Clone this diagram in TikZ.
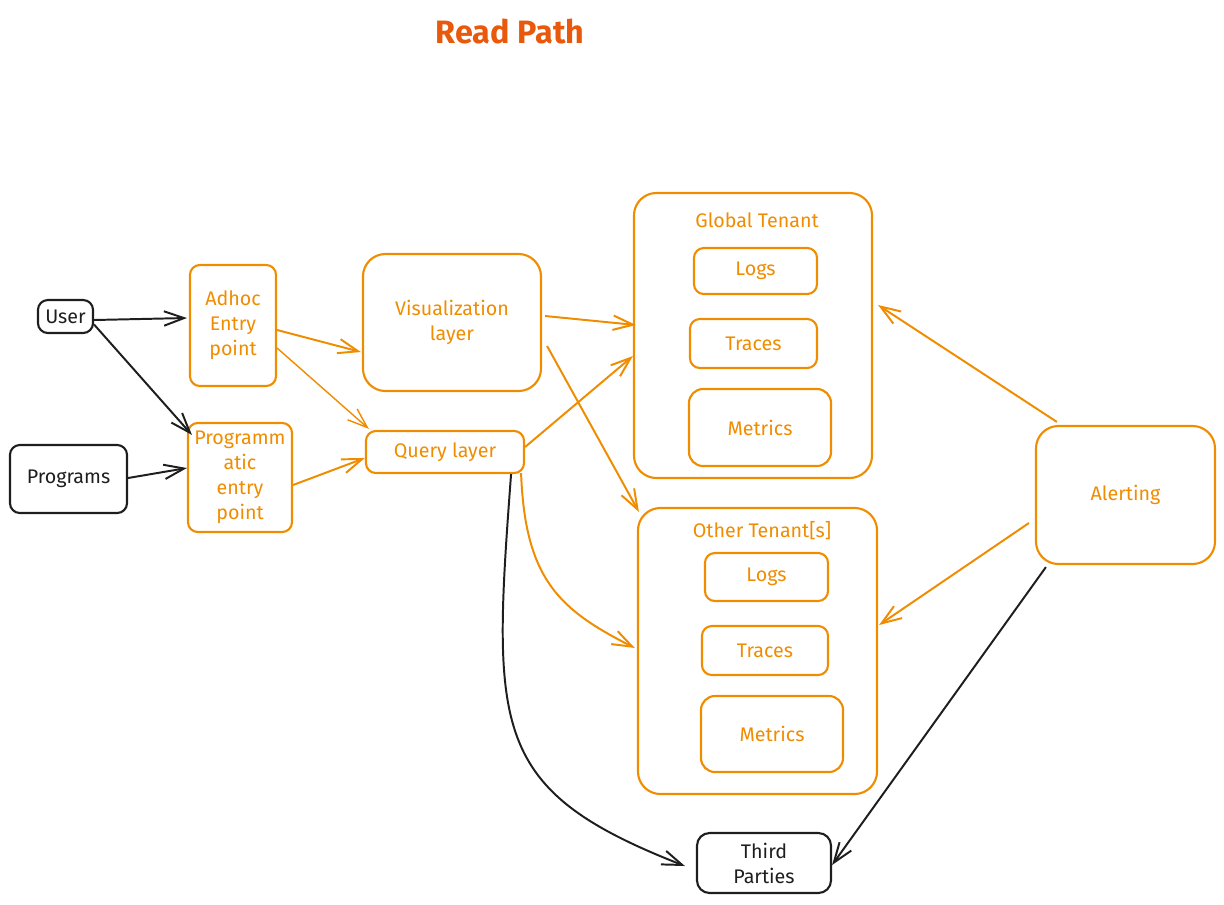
\documentclass[tikz,border=0pt]{standalone}
\usepackage{fontspec}
\setmainfont{Fira Sans}
\usetikzlibrary{arrows.meta,calc}
\definecolor{amber}{HTML}{F08C00}
\definecolor{rust}{HTML}{E8590C}
\definecolor{ink}{HTML}{1E1E1E}
\newcommand{\lbltxt}{\fontsize{14}{17.7}\selectfont}

\begin{document}
\begin{tikzpicture}[
    x=0.025cm, y=-0.025cm,
    >={Straight Barb[length=5mm,width=3.6mm]},
    box/.style={draw=amber, text=amber, line width=1.5pt, rounded corners=7pt, align=center, inner sep=1pt, font=\lbltxt},
    bigbox/.style={box, rounded corners=16pt},
    inkbox/.style={box, draw=ink, text=ink},
    lbl/.style={text=amber, font=\lbltxt},
    flow/.style={->, amber, line width=1.4pt},
    inkflow/.style={->, ink, line width=1.4pt},
  ]
  \useasboundingbox (0,0) rectangle (1224,904);

  % ---------------- title
  \node[text=rust, font=\fontsize{23}{27}\bfseries] (ttl) at (510,31) {Read Path};

  % ---------------- sources
  \node[inkbox, minimum width=1.375cm, minimum height=0.825cm] (user) at (65.5,316.5) {User};
  \node[inkbox, minimum width=2.925cm, minimum height=1.7cm] (progs) at (68.5,479) {Programs};

  % ---------------- entry points
  \node[box, minimum width=2.15cm, minimum height=3.025cm] (adhoc) at (233,325.5) {Adhoc\\Entry\\point};
  \node[box, minimum width=2.6cm, minimum height=2.725cm] (prog) at (240,477.5) {Programm\\atic\\entry\\point};

  % ---------------- layers
  \node[bigbox, minimum width=4.45cm, minimum height=3.425cm] (viz) at (452,322.5) {Visualization\\layer};
  \node[box, minimum width=3.95cm, minimum height=1.05cm] (query) at (445,452) {Query layer};

  % ---------------- global tenant
  \node[bigbox, minimum width=5.95cm, minimum height=7.125cm] (global) at (753,335.5) {};
  \node[lbl] (gname) at (757,220) {Global Tenant};
  \node[box, minimum width=3.075cm, minimum height=1.15cm] (glogs) at (755.5,271) {Logs};
  \node[box, minimum width=3.175cm, minimum height=1.225cm] (gtraces) at (753.5,343.5) {Traces};
  \node[box, rounded corners=10pt, minimum width=3.55cm, minimum height=1.925cm] (gmetrics) at (760,427.5) {Metrics};

  % ---------------- other tenants
  \node[bigbox, minimum width=5.975cm, minimum height=7.15cm] (other) at (757.5,651) {};
  \node[lbl] (oname) at (762,531) {Other Tenant[s]};
  \node[box, minimum width=3.075cm, minimum height=1.2cm] (ologs) at (766.5,577) {Logs};
  \node[box, minimum width=3.15cm, minimum height=1.225cm] (otraces) at (765,650.5) {Traces};
  \node[box, rounded corners=10pt, minimum width=3.55cm, minimum height=1.9cm] (ometrics) at (772,734) {Metrics};

  % ---------------- alerting and third parties
  \node[bigbox, minimum width=4.475cm, minimum height=3.45cm] (alert) at (1125.5,495) {Alerting};
  \node[inkbox, rounded corners=9pt, minimum width=3.35cm, minimum height=1.5cm] (third) at (764,863) {Third\\Parties};

  % ---------------- connectors
  \draw[inkflow] ($(user.east)+(0,3.5)$) -- ($(adhoc.west)+(-2,-7.5)$);
  \draw[inkflow] ($(user.east)+(0,8)$) -- ($(prog.north west)+(5,13)$);
  \draw[inkflow] ($(progs.east)+(0,-1)$) -- ($(prog.west)+(0,-9.5)$);
  \draw[flow] ($(adhoc.east)+(0,4.5)$) -- ($(viz.west)+(-1,29.5)$);
  \draw[flow, line width=1pt] ($(adhoc.east)+(0,22.5)$) -- ($(query.north west)+(4,-1)$);
  \draw[flow] ($(prog.east)+(0,7.5)$) -- ($(query.west)+(0,6)$);
  \draw[flow] ($(viz.east)+(3,-6.5)$) -- ($(global.west)+(3,-10.5)$);
  \draw[flow] ($(viz.east)+(5,23.5)$) -- ($(other.north west)+(2,5)$);
  \draw[flow] ($(query.east)+(0,-5)$) -- ($(global.west)+(0,20.5)$);
  \draw[flow] ($(query.south east)+(-4,-1)$) .. controls (525,580) and (560,610) .. ($(other.west)+(-2,-3)$);
  \draw[inkflow] ($(query.south east)+(-14,0)$) .. controls (492,730) and (490,790) .. ($(third.west)+(-11,3)$);
  \draw[flow] ($(alert.north west)+(22,-3)$) -- ($(global.east)+(5,-30.5)$);
  \draw[flow] ($(alert.west)+(-6,28)$) -- ($(other.east)+(1,-26)$);
  \draw[inkflow] ($(alert.south west)+(11,2)$) -- ($(third.east)+(0,2)$);
\end{tikzpicture}
\end{document}
